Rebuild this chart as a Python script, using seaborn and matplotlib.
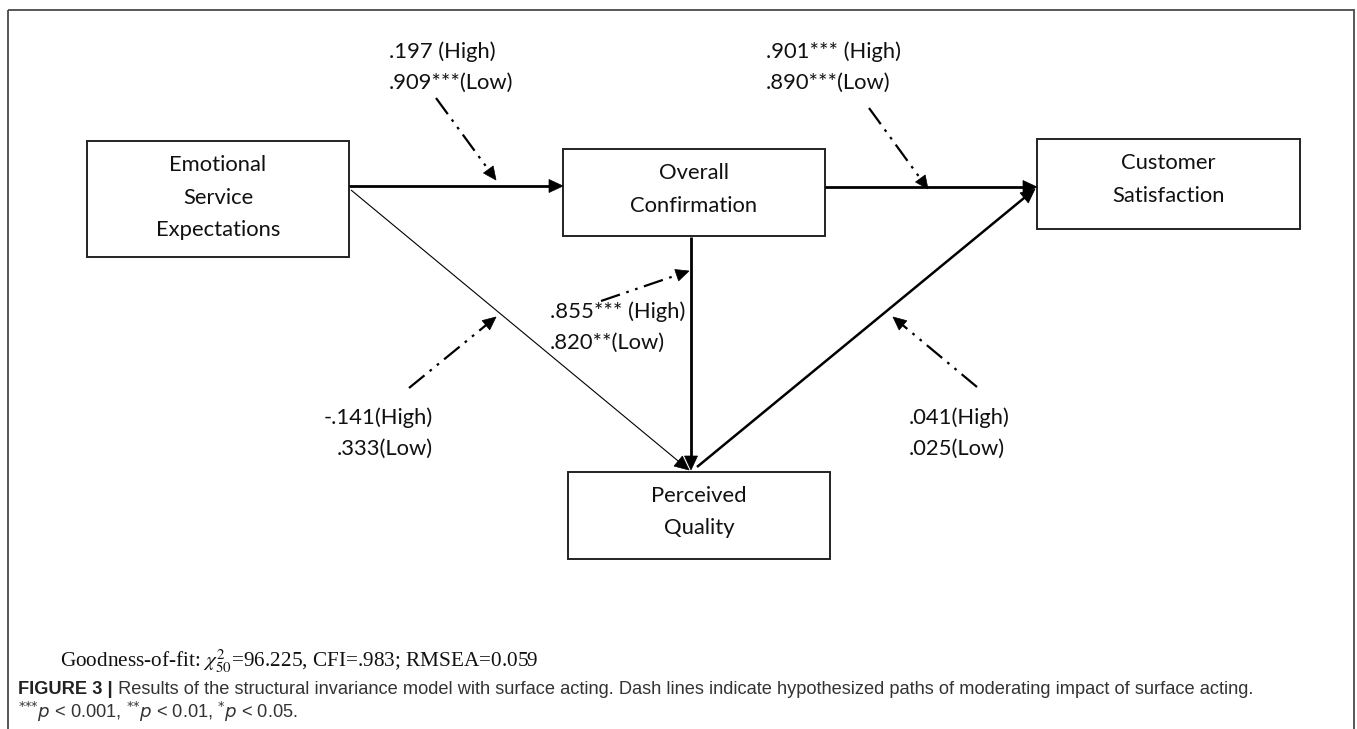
import matplotlib
matplotlib.use("Agg")
import matplotlib.pyplot as plt
import seaborn as sns
import numpy as np
from matplotlib.patches import Rectangle, Polygon
from matplotlib import font_manager as fm

# ---------------- data (text content) ----------------
node_labels = ["Emotional\nService\nExpectations", "Overall\nConfirmation",
               "Customer\nSatisfaction", "Perceived\nQuality"]
high_labels = [".197 (High)", ".901*** (High)", ".855*** (High)", "-.141(High)", ".041(High)"]
low_labels = [".909***(Low)", ".890***(Low)", ".820**(Low)", ".333(Low)", ".025(Low)"]
fit_text = r"Goodness-of-fit: $\chi^2_{50}$=96.225, CFI=.983; RMSEA=0.059"
caption_bold = "FIGURE 3 |"
caption_main = (" Results of the structural invariance model with surface acting. "
                "Dash lines indicate hypothesized paths of moderating impact of surface acting.")
caption_note = (r"$^{{*}{*}{*}}\mathit{p}$ < 0.001, $^{{*}{*}}\mathit{p}$ < 0.01, "
                r"$^{{*}}\mathit{p}$ < 0.05.")

# ---------------- layout (pixel space) ----------------
W, H = 1357, 729
boxes = [(87, 141, 349, 257), (563, 149, 825, 236), (1037, 139, 1300, 229), (568, 472, 830, 559)]
paths = [((349, 186), (563, 186), 2.0),
         ((825, 187), (1037, 187), 2.0),
         ((351, 190), (689, 470), 0.8),
         ((691, 237), (691, 470), 2.0),
         ((697, 467), (1035, 189), 1.8)]
mod_arrows = [((436, 98), (496, 180)), ((869, 108), (928, 189)),
              ((601, 301), (689, 271)), ((409, 388), (496, 317)),
              ((977, 387), (893, 317))]
label_pos = [(389, 52, "left"), (766, 52, "left"), (550, 312, "left"),
             (433, 418, "right"), (909, 418, "left")]

sns.set_theme(style="white")
avail = {f.name for f in fm.fontManager.ttflist}
diag_font = "Lato" if "Lato" in avail else "DejaVu Sans"
cap_font = "Liberation Sans Narrow" if "Liberation Sans Narrow" in avail else "Liberation Sans"
plt.rcParams["font.family"] = [diag_font, "DejaVu Sans"]
plt.rcParams["mathtext.fontset"] = "stix"

fig = plt.figure(figsize=(W / 100, H / 100), dpi=100)
ax = fig.add_axes([0, 0, 1, 1])
ax.set_xlim(0, W)
ax.set_ylim(H, 0)
ax.axis("off")

# outer frame
ax.add_patch(Rectangle((8, 10), 1346, 900, fill=False, ec="#4a4a4a", lw=1.3))

FS = 15.8
# nodes
for (x0, y0, x1, y1), lab in zip(boxes, node_labels):
    ax.add_patch(Rectangle((x0, y0), x1 - x0, y1 - y0, fill=False, ec="#222222", lw=1.4))
    for i, line in enumerate(lab.split("\n")):
        ax.text((x0 + x1) / 2, y0 + 24 + i * 32.5, line, ha="center", va="center",
                fontsize=FS, color="#111111")


def arrow(p0, p1, lw, dashed=False, head_len=14.0, head_w=6.5):
    p0 = np.asarray(p0, float)
    p1 = np.asarray(p1, float)
    d = p1 - p0
    u = d / np.hypot(*d)
    n = np.array([-u[1], u[0]])
    base = p1 - u * head_len
    kw = dict(color="black", lw=lw, solid_capstyle="butt", dash_capstyle="butt")
    if dashed:
        kw["dashes"] = (9, 3, 1.2, 3, 1.2, 3)
    ax.plot([p0[0], base[0] + u[0] * 1], [p0[1], base[1] + u[1] * 1], **kw)
    ax.add_patch(Polygon([p1, base + n * head_w, base - n * head_w], closed=True,
                         fc="black", ec="black", lw=0.5))


for p0, p1, lw in paths:
    arrow(p0, p1, lw)
for p0, p1 in mod_arrows:
    arrow(p0, p1, 1.6, dashed=True, head_len=13, head_w=6)

for (x, y, ha), hi, lo in zip(label_pos, high_labels, low_labels):
    ax.text(x, y, hi, ha=ha, va="center", fontsize=FS, color="#111111")
    ax.text(x, y + 31, lo, ha=ha, va="center", fontsize=FS, color="#111111")

# goodness of fit
ax.text(60, 661, fit_text, ha="left", va="center", fontsize=15.3,
        family="Liberation Serif", color="#111111")

# caption
t1 = ax.text(18, 689, caption_bold, ha="left", va="center", fontsize=13.15,
             family=cap_font, weight="bold", color="#222222")
ax.annotate(caption_main, xy=(1, 0), xycoords=t1, ha="left", va="bottom",
            fontsize=13.15, family=cap_font, color="#333333")
ax.text(18, 712, caption_note, ha="left", va="center", fontsize=13.15,
        family=cap_font, color="#333333", math_fontfamily="dejavusans")

fig.savefig("out.png", dpi=100)
